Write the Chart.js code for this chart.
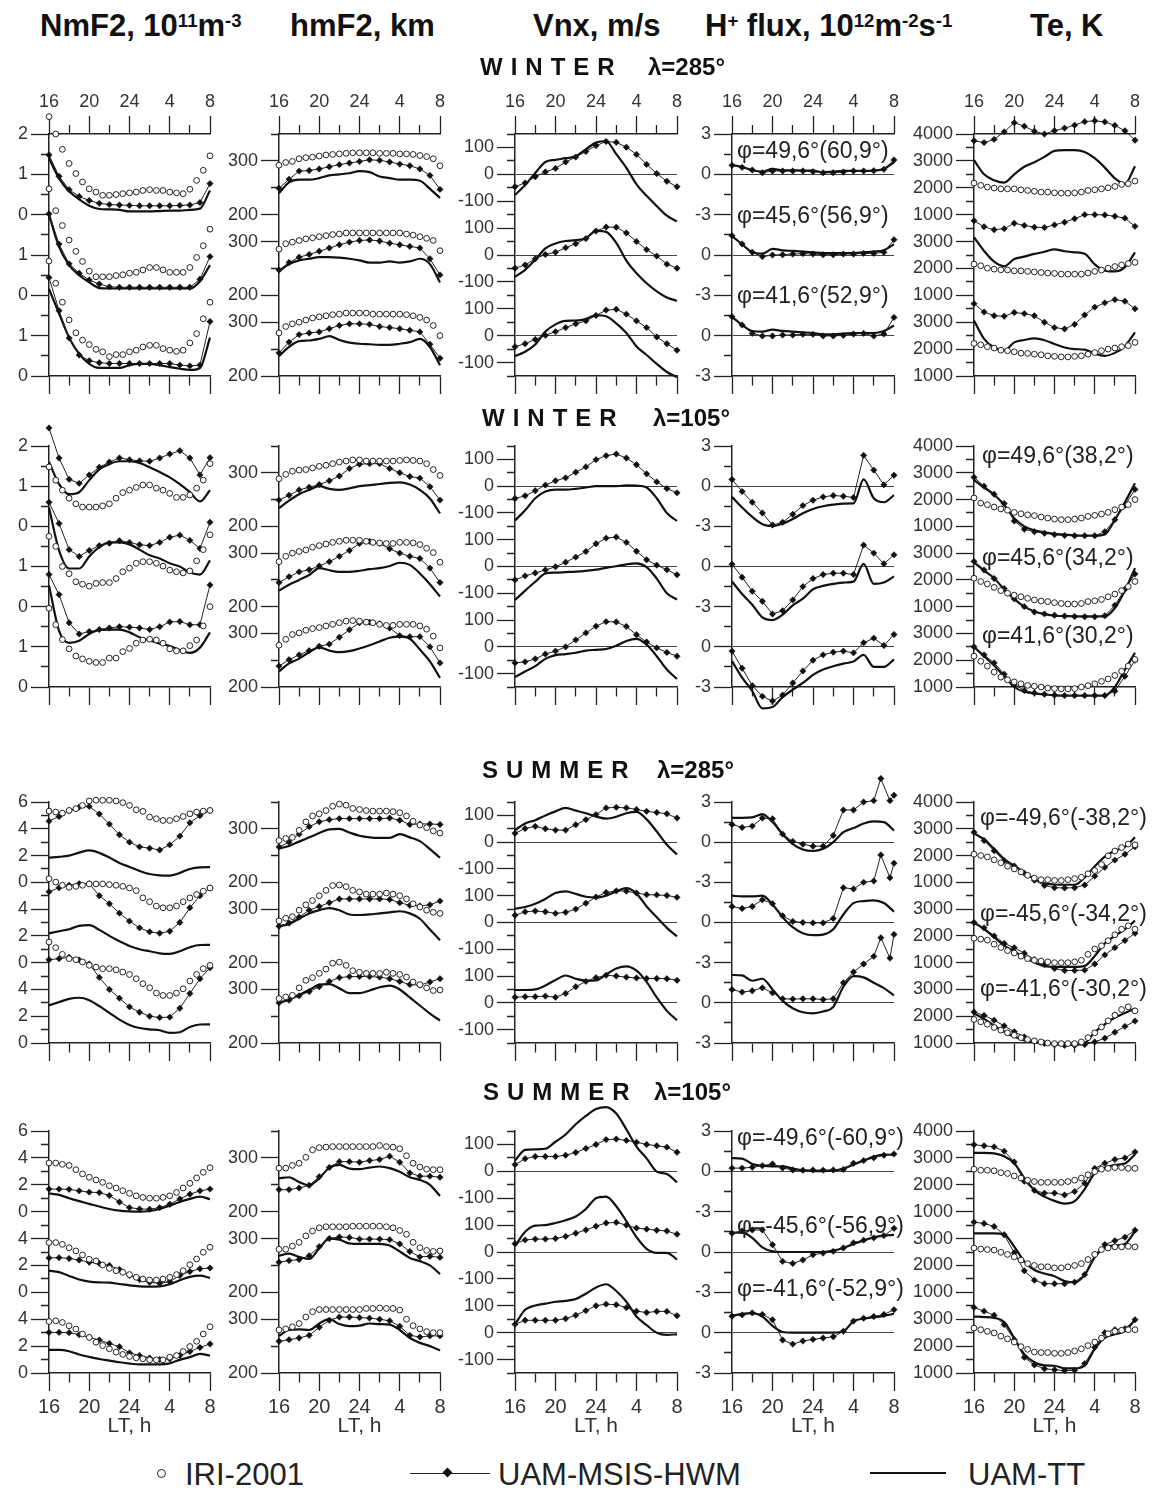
<!DOCTYPE html>
<html lang="en">
<head>
<meta charset="UTF-8">
<title>NmF2, hmF2, Vnx, H+ flux, Te: IRI-2001 / UAM-MSIS-HWM / UAM-TT</title>
<script src="https://cdn.jsdelivr.net/npm/chart.js"></script>
<style>
  body { margin:0; background:#fff; width:1153px; height:1488px; position:relative; overflow:hidden;
         font-family:'Liberation Sans', Arial, sans-serif; color:#111; }
  .abs { position:absolute; white-space:nowrap; line-height:1; z-index:2; }
  .hdr { font-size:31px; font-weight:bold; top:10px; }
  .sup { font-size:0.6em; position:relative; top:-0.5em; }
  .blk { font-size:24px; font-weight:bold; }
  .spaced { letter-spacing:8px; }
  .phi { font-size:23px; color:#222; }
  .leg { font-size:31px; top:1459px; color:#222; }
  canvas { position:absolute; z-index:1; }
</style>
</head>
<body>
  <div class="abs hdr" style="left:40px">NmF2, 10<span class="sup">11</span>m<span class="sup">-3</span></div>
  <div class="abs hdr" style="left:290px">hmF2, km</div>
  <div class="abs hdr" style="left:533px">Vnx, m/s</div>
  <div class="abs hdr" style="left:705px">H<span class="sup">+</span> flux, 10<span class="sup">12</span>m<span class="sup">-2</span>s<span class="sup">-1</span></div>
  <div class="abs hdr" style="left:1030px">Te, K</div>

  <div class="abs blk spaced" style="left:480px;top:55px">WINTER</div>
  <div class="abs blk" style="left:648px;top:55px">λ=285°</div>
  <div class="abs blk spaced" style="left:482px;top:406px">WINTER</div>
  <div class="abs blk" style="left:653px;top:406px">λ=105°</div>
  <div class="abs blk spaced" style="left:482px;top:758px">SUMMER</div>
  <div class="abs blk" style="left:657px;top:758px">λ=285°</div>
  <div class="abs blk spaced" style="left:483px;top:1080px">SUMMER</div>
  <div class="abs blk" style="left:654px;top:1080px">λ=105°</div>

  <div class="abs phi" style="left:737px;top:139px">φ=49,6°(60,9°)</div>
  <div class="abs phi" style="left:737px;top:204px">φ=45,6°(56,9°)</div>
  <div class="abs phi" style="left:737px;top:284px">φ=41,6°(52,9°)</div>
  <div class="abs phi" style="left:982px;top:444px">φ=49,6°(38,2°)</div>
  <div class="abs phi" style="left:982px;top:546px">φ=45,6°(34,2°)</div>
  <div class="abs phi" style="left:982px;top:624px">φ=41,6°(30,2°)</div>
  <div class="abs phi" style="left:980px;top:806px">φ=-49,6°(-38,2°)</div>
  <div class="abs phi" style="left:980px;top:902px">φ=-45,6°(-34,2°)</div>
  <div class="abs phi" style="left:980px;top:977px">φ=-41,6°(-30,2°)</div>
  <div class="abs phi" style="left:737px;top:1126px">φ=-49,6°(-60,9°)</div>
  <div class="abs phi" style="left:737px;top:1214px">φ=-45,6°(-56,9°)</div>
  <div class="abs phi" style="left:737px;top:1277px">φ=-41,6°(-52,9°)</div>

  <div class="abs" style="left:157px;top:1469px;width:7px;height:7px;border:1.4px solid #222;border-radius:50%"></div>
  <div class="abs leg" style="left:185px">IRI-2001</div>
  <div class="abs" style="left:410px;top:1473px;width:80px;height:1.4px;background:#222"></div>
  <div class="abs" style="left:444px;top:1469px;width:7px;height:7px;background:#111;transform:rotate(45deg)"></div>
  <div class="abs leg" style="left:498px">UAM-MSIS-HWM</div>
  <div class="abs" style="left:870px;top:1472px;width:76px;height:2.4px;background:#111"></div>
  <div class="abs leg" style="left:968px">UAM-TT</div>

<script>
// local time, h (28 = 4 LT, 32 = 8 LT of the next day)
const hoursIRI = [16,16.67,17.33,18,18.67,19.33,20,20.67,21.33,22,22.67,23.33,24,24.67,25.33,26,26.67,27.33,28,28.67,29.33,30,30.67,31.33,32];
const hoursUAM = [16,17,18,19,20,21,22,23,24,25,26,27,28,29,30,31,32];
const hoursSpike = [16,17,18,19,20,21,22,23,24,25,26,27,28,29,30,30.7,31.6,32];
const xTickText = {16:'16', 20:'20', 24:'24', 28:'4', 32:'8'};

// each array: [upper latitude, middle, lower] as stacked in a panel

// ---- WINTER, lambda = 285
const nm_w285_iri = [
  [2.43,2.00,1.62,1.27,1.02,0.81,0.64,0.56,0.48,0.48,0.50,0.52,0.54,0.56,0.60,0.62,0.60,0.60,0.56,0.54,0.52,0.63,0.85,1.10,1.46],
  [2.64,2.10,1.73,1.37,1.09,0.84,0.60,0.46,0.46,0.46,0.49,0.51,0.55,0.57,0.63,0.69,0.69,0.63,0.57,0.57,0.57,0.69,0.94,1.23,1.64],
  [2.85,2.30,1.83,1.39,1.07,0.89,0.78,0.66,0.60,0.48,0.53,0.53,0.60,0.64,0.72,0.76,0.76,0.68,0.64,0.61,0.64,0.82,1.05,1.42,1.83]];
const nm_w285_msis = [
  [1.48,0.95,0.62,0.45,0.35,0.28,0.25,0.24,0.23,0.22,0.22,0.22,0.22,0.23,0.24,0.30,0.77],
  [2.02,1.27,0.78,0.55,0.38,0.28,0.21,0.20,0.20,0.20,0.20,0.20,0.20,0.20,0.20,0.40,0.96],
  [2.44,1.62,0.94,0.52,0.38,0.33,0.31,0.31,0.31,0.31,0.31,0.31,0.31,0.27,0.25,0.27,1.35]];
const nm_w285_tt = [
  [1.40,0.90,0.58,0.38,0.22,0.14,0.13,0.12,0.08,0.08,0.08,0.09,0.10,0.10,0.12,0.15,0.60],
  [2.00,1.20,0.75,0.50,0.32,0.18,0.17,0.17,0.17,0.17,0.17,0.17,0.17,0.17,0.17,0.35,0.75],
  [2.16,1.55,0.95,0.55,0.30,0.20,0.20,0.20,0.27,0.30,0.30,0.27,0.22,0.18,0.15,0.20,0.95]];

const hm_w285_iri = [
  [292,297,299,304,306,307,309,311,312,313,314,315,315,315,315,314,314,314,313,313,312,310,308,304,291],
  [286,296,299,302,305,307,309,311,313,314,316,316,316,316,316,316,316,316,316,314,312,309,306,302,283],
  [280,292,297,300,304,308,310,312,314,315,317,317,317,317,315,315,315,315,315,314,312,309,304,294,275]];
const hm_w285_msis = [
  [249,266,281,282,285,289,293,296,299,302,301,298,294,291,285,273,247],
  [247,261,271,276,282,288,294,299,302,303,301,297,294,291,288,268,238],
  [243,263,277,280,282,288,294,297,297,296,292,290,288,285,282,259,233]];
const hm_w285_tt = [
  [240,260,265,265,268,273,275,277,281,279,271,268,265,265,263,248,231],
  [245,258,265,268,271,271,270,268,265,261,261,263,261,263,268,258,224],
  [237,254,265,266,269,274,267,262,260,259,258,258,260,263,269,254,220]];

const vn_w285_msis = [
  [-46,-32,-9,9,22,46,64,85,107,122,119,101,74,37,3,-26,-46],
  [-49,-37,-14,2,10,27,42,61,89,104,103,82,50,20,-4,-34,-49],
  [-41,-30,-14,1,15,30,44,55,75,95,98,80,55,30,-5,-30,-54]];
const vn_w285_tt = [
  [-77,-40,5,46,54,60,67,93,118,123,75,24,-37,-80,-118,-154,-175],
  [-81,-55,-18,25,43,52,55,62,90,86,45,-21,-68,-105,-135,-158,-171],
  [-76,-60,-33,15,42,55,56,62,76,72,46,10,-40,-72,-105,-135,-154]];

const hp_w285_msis = [
  [0.67,0.52,0.32,0.12,0.25,0.25,0.25,0.25,0.20,0.12,0.12,0.17,0.25,0.25,0.27,0.37,1.07],
  [1.44,0.82,0.20,-0.12,0.00,0.02,0.07,0.10,0.07,0.02,0.02,0.07,0.07,0.12,0.12,0.20,1.14],
  [1.41,0.79,0.17,-0.02,-0.02,0.05,0.05,0.10,0.10,-0.02,-0.02,0.02,0.12,0.17,-0.02,0.12,1.36]];
const hp_w285_tt = [
  [0.70,0.55,0.30,0.20,0.40,0.30,0.30,0.28,0.28,0.15,0.20,0.25,0.25,0.25,0.28,0.40,0.90],
  [1.40,0.80,0.20,0.10,0.45,0.35,0.30,0.25,0.20,0.15,0.15,0.15,0.15,0.20,0.25,0.35,0.80],
  [1.40,0.80,0.35,0.30,0.45,0.35,0.30,0.25,0.20,0.10,0.10,0.15,0.20,0.20,0.20,0.35,0.75]];

const te_w285_iri = [
  [2175,2090,2025,1990,1960,1960,1960,1925,1900,1870,1840,1840,1810,1800,1800,1810,1840,1900,1925,1960,2000,2050,2125,2150,2250],
  [2160,2100,2010,1975,1950,1940,1910,1910,1890,1870,1850,1830,1815,1790,1790,1790,1790,1830,1890,1940,2010,2070,2130,2180,2225],
  [2210,2160,2090,2040,1960,1940,1900,1850,1840,1810,1790,1750,1730,1710,1710,1730,1750,1810,1870,1940,2000,2040,2090,2130,2250]];
const te_w285_msis = [
  [3750,3680,3800,4080,4420,4290,4100,4000,4120,4220,4330,4460,4490,4450,4320,4120,3770],
  [3775,3550,3440,3480,3680,3600,3530,3520,3620,3720,3850,4000,4000,3990,3940,3870,3565],
  [3690,3380,3240,3220,3360,3320,3240,3000,2800,2750,2920,3270,3560,3720,3840,3780,3500]];
const te_w285_tt = [
  [3025,2500,2280,2190,2500,2780,2950,3150,3370,3400,3400,3330,3100,2750,2350,2150,2800],
  [3160,2650,2250,2080,2350,2440,2540,2620,2710,2640,2600,2550,2150,1920,1890,2050,2600],
  [3060,2380,2060,1950,2250,2340,2400,2330,2190,2060,2000,1980,1830,1750,1860,2110,2625]];

// ---- WINTER, lambda = 105
const nm_w105_iri = [
  [1.48,1.15,0.90,0.70,0.56,0.48,0.48,0.48,0.51,0.56,0.70,0.84,0.90,0.97,1.03,1.03,0.95,0.90,0.82,0.72,0.72,0.78,0.95,1.15,1.56],
  [1.75,1.50,1.00,0.82,0.62,0.56,0.51,0.58,0.60,0.60,0.70,0.87,0.96,1.08,1.12,1.12,1.08,1.01,0.91,0.87,0.84,0.89,1.14,1.42,1.79],
  [1.96,1.55,1.18,0.95,0.77,0.70,0.64,0.61,0.61,0.72,0.72,0.88,0.96,1.09,1.17,1.19,1.17,1.09,0.95,0.90,0.90,1.03,1.17,1.52,2.00]];
const nm_w105_msis = [
  [2.45,1.70,1.17,1.07,1.28,1.47,1.60,1.70,1.66,1.63,1.62,1.70,1.80,1.88,1.70,1.28,1.71],
  [2.60,2.07,1.42,1.25,1.40,1.52,1.58,1.64,1.60,1.54,1.52,1.60,1.73,1.78,1.65,1.45,2.10],
  [2.80,2.30,1.60,1.32,1.38,1.43,1.47,1.50,1.49,1.47,1.43,1.50,1.62,1.63,1.55,1.55,2.54]];
const nm_w105_tt = [
  [1.60,1.05,0.80,0.85,1.15,1.42,1.55,1.62,1.62,1.58,1.47,1.35,1.22,1.05,0.85,0.62,0.90],
  [2.47,1.40,0.95,0.95,1.25,1.48,1.60,1.60,1.55,1.42,1.28,1.20,1.08,1.00,0.85,0.80,1.15],
  [2.53,1.40,1.10,1.15,1.32,1.42,1.43,1.43,1.36,1.24,1.16,1.08,1.02,0.92,0.85,0.98,1.36]];

const hm_w105_iri = [
  [289,297,303,305,306,309,312,314,317,320,322,324,324,322,322,322,322,322,323,324,323,322,317,306,295],
  [284,294,300,303,306,311,314,317,320,322,324,324,324,322,320,319,318,318,320,320,319,316,309,301,283],
  [278,289,298,301,306,309,311,314,317,320,323,324,323,321,320,317,315,315,317,317,317,314,308,295,273]];
const hm_w105_msis = [
  [249,258,268,273,278,285,294,308,316,317,317,308,300,293,290,274,249],
  [245,256,265,269,276,284,294,305,318,322,318,308,300,294,290,272,245],
  [239,251,260,268,276,280,293,307,320,321,318,310,296,294,294,275,245]];
const hm_w105_tt = [
  [234,248,260,268,275,270,268,271,275,277,279,281,282,278,268,252,224],
  [230,241,250,259,272,268,265,265,267,270,272,276,282,278,262,242,219],
  [229,244,253,265,274,268,265,267,272,278,285,292,294,290,270,248,217]];

const vn_w105_msis = [
  [-46,-36,-17,4,20,31,52,72,99,114,120,105,80,46,16,-9,-25],
  [-50,-35,-24,-13,-1,16,35,56,85,106,110,90,57,25,5,-12,-31],
  [-60,-56,-45,-27,-16,0,26,52,77,94,93,76,45,18,-4,-21,-35]];
const vn_w105_tt = [
  [-128,-90,-45,-20,-13,-13,-10,-5,0,0,0,3,2,-5,-45,-100,-130],
  [-125,-90,-57,-26,-23,-21,-19,-16,-12,-5,1,8,12,-2,-45,-100,-123],
  [-113,-92,-72,-45,-31,-27,-22,-14,-11,-8,4,22,30,8,-35,-85,-120]];

const hp_w105_msis = [
  [0.50,-0.40,-1.20,-2.00,-2.90,-2.70,-2.10,-1.45,-1.05,-0.80,-0.70,-0.75,-0.85,2.30,1.20,0.10,0.82],
  [0.17,-0.80,-1.85,-2.60,-3.55,-3.30,-2.50,-1.50,-0.90,-0.60,-0.50,-0.50,-0.60,1.60,1.00,0.20,0.87],
  [-0.32,-1.60,-2.90,-3.70,-4.05,-3.60,-2.70,-1.80,-1.00,-0.60,-0.40,-0.32,-0.45,0.30,0.65,0.10,0.92]];
const hp_w105_tt = [
  [-0.80,-1.60,-2.30,-2.85,-2.98,-2.80,-2.45,-2.03,-1.70,-1.50,-1.38,-1.30,-1.29,0.50,-0.90,-1.20,-0.67],
  [-1.12,-2.05,-2.85,-3.80,-4.00,-3.60,-2.90,-2.40,-1.70,-1.45,-1.30,-1.20,-1.13,0.20,-1.30,-1.20,-0.74],
  [-1.07,-2.30,-3.30,-4.60,-4.50,-3.75,-3.20,-2.70,-2.10,-1.70,-1.45,-1.25,-1.10,-0.60,-1.50,-1.50,-0.94]];

const te_w105_iri = [
  [2060,1870,1810,1720,1650,1600,1520,1470,1430,1400,1350,1310,1270,1250,1250,1270,1310,1370,1410,1460,1520,1620,1720,1810,2000],
  [2060,1940,1850,1720,1600,1500,1430,1370,1310,1250,1210,1190,1150,1120,1100,1100,1120,1190,1220,1270,1370,1470,1600,1750,1940],
  [2150,1960,1780,1560,1370,1270,1190,1120,1060,1030,1000,960,940,930,930,940,1000,1050,1120,1210,1300,1430,1590,1780,2030]];
const te_w105_msis = [
  [2830,2500,2200,1850,1200,890,800,740,690,660,650,650,650,800,1250,1780,2380],
  [2690,2370,2050,1680,1290,1000,800,730,680,650,630,625,625,660,1050,1650,2220],
  [2500,2200,1900,1480,1100,870,780,730,700,680,680,680,680,680,850,1400,2000]];
const te_w105_tt = [
  [2730,2450,2180,1800,1300,1000,850,780,720,690,660,650,650,700,1250,1900,2610],
  [2650,2350,2060,1650,1280,1000,820,720,660,650,640,640,640,640,950,1600,2440],
  [2500,2150,1800,1400,1000,820,760,720,690,680,680,680,680,680,1000,1650,2280]];

// ---- SUMMER, lambda = 285
const nm_s285_iri = [
  [5.32,5.25,5.17,5.37,5.50,5.75,6.08,6.13,6.13,6.13,6.08,5.95,5.75,5.42,5.30,4.87,4.75,4.62,4.62,4.75,4.92,5.12,5.25,5.32,5.37],
  [6.27,6.02,5.78,5.63,5.70,5.78,5.88,5.88,5.88,5.83,5.78,5.70,5.58,5.38,4.84,4.55,4.23,4.10,4.10,4.23,4.55,4.84,5.09,5.34,5.58],
  [7.54,7.12,6.62,6.30,6.22,6.05,5.80,5.67,5.55,5.55,5.47,5.30,5.12,4.80,4.43,4.13,3.73,3.55,3.55,3.73,4.05,4.63,5.12,5.55,5.80]];
const nm_s285_msis = [
  [4.57,4.92,5.35,5.62,5.67,5.10,4.35,3.55,3.00,2.65,2.55,2.42,2.80,3.45,4.45,4.98,5.37],
  [5.29,5.60,5.78,5.90,5.90,5.00,4.40,3.70,3.10,2.60,2.30,2.20,2.35,3.00,4.10,5.00,5.58],
  [6.22,6.30,6.40,6.20,5.90,4.90,4.00,3.35,2.70,2.30,2.00,1.90,1.93,2.60,3.70,4.80,5.62]];
const nm_s285_tt = [
  [1.84,1.90,2.00,2.22,2.38,2.20,1.85,1.45,1.15,0.85,0.62,0.52,0.50,0.70,1.00,1.12,1.13],
  [2.19,2.35,2.50,2.75,2.80,2.45,2.00,1.60,1.25,1.00,0.85,0.70,0.66,0.85,1.15,1.32,1.33],
  [2.81,3.05,3.30,3.38,3.20,2.75,2.25,1.75,1.35,1.12,1.02,0.95,0.75,0.80,1.20,1.38,1.39]];

const hm_s285_iri = [
  [278,282,284,297,313,324,328,334,342,346,344,338,336,334,333,333,333,332,330,324,314,307,302,296,292],
  [278,283,286,298,308,316,325,335,344,345,342,335,332,328,328,328,330,328,325,319,310,304,298,294,292],
  [283,286,289,303,317,322,330,338,349,351,345,335,332,330,330,330,332,330,328,323,314,309,303,298,299]];
const hm_s285_msis = [
  [266,275,290,304,313,317,319,319,319,319,319,320,316,308,309,309,308],
  [268,274,285,298,305,312,319,319,319,319,319,318,312,307,306,308,315],
  [275,280,288,296,305,315,322,324,324,324,323,320,315,309,308,314,320]];
const hm_s285_tt = [
  [263,268,276,284,292,299,300,293,287,284,283,283,290,284,277,262,246],
  [268,272,282,292,298,302,298,290,289,290,292,294,296,292,282,262,242],
  [275,281,290,299,309,310,302,293,293,298,304,307,300,285,270,255,242]];

const vn_s285_msis = [
  [33,51,59,50,45,45,65,84,103,128,130,128,122,115,111,106,90],
  [27,40,43,40,34,38,50,72,95,112,118,117,110,104,103,101,94],
  [21,23,23,25,21,35,60,80,94,103,100,96,93,91,91,90,84]];
const vn_s285_tt = [
  [45,70,82,100,115,128,118,108,96,88,95,108,113,85,40,-10,-46],
  [51,58,70,88,110,116,107,96,93,100,116,128,108,60,20,-20,-52],
  [48,48,50,65,85,102,90,83,84,106,128,136,120,78,20,-30,-65]];

// on hoursSpike (sharp morning peak)
const hp_s285_msis = [
  [1.32,1.10,1.20,1.80,1.75,0.60,0.05,-0.15,-0.30,-0.30,0.50,2.40,2.40,3.00,3.10,4.75,3.10,3.50],
  [1.19,1.05,1.20,1.70,1.40,0.50,0.08,0.00,-0.03,-0.03,0.30,2.60,2.50,3.00,3.10,5.04,3.34,4.43],
  [0.99,0.80,0.90,1.12,0.75,0.30,0.28,0.30,0.30,0.25,0.30,1.50,2.30,2.90,3.47,4.86,3.34,5.11]];
const hp_s285_tt = [
  [1.82,1.82,1.85,2.10,1.50,0.60,-0.15,-0.55,-0.66,-0.50,0.00,0.75,1.05,1.40,1.55,1.50,0.86],
  [2.00,1.95,1.95,2.00,1.35,0.40,-0.35,-0.80,-0.95,-0.90,-0.50,0.60,1.45,1.60,1.65,1.45,0.81],
  [2.08,2.05,1.65,1.80,1.00,0.15,-0.40,-0.70,-0.78,-0.65,-0.30,1.20,2.00,1.90,1.50,1.10,0.56]];

const te_s285_iri = [
  [2050,2000,1950,1840,1730,1600,1500,1390,1260,1160,1100,1100,1070,1070,1100,1140,1190,1320,1440,1670,1990,2170,2300,2430,2400],
  [1910,1880,1840,1690,1570,1450,1360,1240,1150,1090,1060,1030,1000,1000,1000,1030,1090,1310,1510,1630,1820,2040,2250,2380,2250],
  [1880,1790,1700,1580,1480,1380,1290,1200,1130,1080,1040,1000,980,980,980,980,1040,1200,1380,1600,1830,2040,2250,2350,2200]];
const te_s285_msis = [
  [2870,2560,2180,1800,1610,1340,1080,880,800,790,800,900,1230,1560,1830,2050,2330],
  [2500,2300,2000,1720,1560,1350,1120,930,780,710,710,720,950,1290,1560,1830,2100],
  [2160,2030,1850,1640,1420,1230,1060,980,930,910,910,940,1040,1180,1400,1620,1820]];
const te_s285_tt = [
  [2830,2600,2250,1870,1620,1380,1120,960,920,910,910,1180,1600,1960,2180,2330,2680],
  [2500,2250,1950,1640,1420,1200,1010,870,840,840,840,880,1250,1720,2000,2250,2570],
  [2100,1900,1650,1420,1230,1100,1020,990,960,950,950,1000,1400,1700,1950,2120,2290]];

// ---- SUMMER, lambda = 105
const nm_s105_iri = [
  [3.62,3.62,3.52,3.44,3.12,2.81,2.56,2.36,2.18,1.93,1.76,1.56,1.36,1.18,1.06,1.00,1.00,1.06,1.18,1.43,1.76,2.11,2.51,2.93,3.27],
  [3.70,3.70,3.57,3.32,3.08,2.78,2.46,2.33,2.03,1.78,1.61,1.49,1.32,1.12,0.99,0.92,0.92,0.99,1.12,1.32,1.61,2.06,2.48,2.98,3.35],
  [3.83,3.88,3.76,3.51,3.27,2.90,2.65,2.29,2.04,1.80,1.55,1.38,1.23,1.13,1.06,0.98,0.98,0.98,1.18,1.30,1.60,1.97,2.36,2.90,3.44]];
const nm_s105_msis = [
  [1.68,1.68,1.66,1.55,1.45,1.42,1.20,0.72,0.30,0.20,0.18,0.30,0.55,0.95,1.30,1.55,1.68],
  [2.56,2.58,2.52,2.40,2.24,2.15,2.00,1.70,1.25,0.95,0.75,0.67,0.80,1.25,1.55,1.75,1.81],
  [3.02,3.02,3.00,2.85,2.65,2.45,2.20,1.95,1.50,1.30,1.12,1.00,1.05,1.30,1.60,1.90,2.16]];
const nm_s105_tt = [
  [1.36,1.25,1.00,0.78,0.58,0.38,0.20,0.08,0.02,0.00,0.05,0.20,0.45,0.72,0.95,1.12,0.93],
  [1.61,1.50,1.22,0.95,0.80,0.74,0.72,0.62,0.52,0.45,0.42,0.44,0.60,0.90,1.15,1.24,1.07],
  [1.72,1.72,1.62,1.38,1.20,1.04,0.92,0.80,0.70,0.64,0.64,0.64,0.72,0.98,1.18,1.42,1.30]];

const hm_s105_iri = [
  [281,281,286,290,301,315,319,320,321,321,321,321,321,321,321,323,321,320,317,304,290,283,279,278,278],
  [280,280,286,293,305,314,320,322,322,322,322,323,323,323,323,323,322,320,315,308,293,283,278,276,277],
  [280,282,286,292,304,314,318,318,318,318,318,318,318,320,320,321,320,320,317,300,288,282,277,275,275]];
const hm_s105_msis = [
  [241,241,244,249,265,282,293,293,292,295,297,303,292,272,266,266,264],
  [256,259,261,268,285,300,303,302,299,299,299,298,290,276,266,267,265],
  [259,262,265,270,285,298,304,304,303,302,300,297,287,270,267,269,269]];
const hm_s105_tt = [
  [262,264,255,249,262,282,287,280,279,282,284,281,274,264,259,250,229],
  [268,272,266,262,282,300,298,291,290,290,290,287,276,264,258,250,234],
  [269,280,281,280,292,300,291,287,288,292,291,290,280,265,256,250,242]];

const vn_s105_msis = [
  [25,47,55,55,55,60,70,85,100,118,120,115,108,100,95,90,71],
  [31,45,48,48,50,58,70,82,96,108,110,100,89,85,81,78,66],
  [31,46,46,46,46,52,65,82,100,106,104,93,80,75,79,79,63]];
const vn_s105_tt = [
  [40,80,82,84,110,137,175,206,232,239,215,156,92,48,-1,-10,-41],
  [22,75,98,100,108,118,132,160,200,206,170,115,55,12,-3,-3,-28],
  [31,85,101,108,115,118,125,145,168,180,155,115,60,28,0,-8,-6]];

const hp_s105_msis = [
  [0.24,0.24,0.30,0.42,0.55,0.25,0.10,0.08,0.10,0.09,0.10,0.14,0.60,0.80,1.00,1.20,1.29],
  [1.39,1.57,1.64,1.64,0.54,-0.70,-0.85,-0.60,-0.20,-0.08,0.05,0.30,0.68,0.88,1.05,1.22,1.76],
  [1.22,1.32,1.47,1.36,0.96,-0.55,-0.85,-0.62,-0.50,-0.40,-0.30,0.10,0.86,1.07,1.20,1.35,1.71]];
const hp_s105_tt = [
  [0.98,0.95,0.55,0.42,0.37,0.37,0.20,0.08,0.02,0.02,0.05,0.20,0.50,0.80,1.10,1.25,1.22],
  [1.44,1.44,1.05,0.35,0.05,0.00,0.00,0.00,0.00,0.00,0.10,0.30,0.60,0.85,1.10,1.22,1.27],
  [1.27,1.40,1.45,1.20,0.50,0.05,0.00,0.00,0.00,0.00,0.00,0.10,0.85,1.05,1.15,1.25,1.41]];

const te_s105_iri = [
  [2580,2540,2540,2520,2450,2420,2330,2250,2170,2120,2090,2090,2090,2090,2120,2170,2250,2370,2490,2580,2610,2640,2640,2610,2610],
  [2650,2610,2590,2570,2490,2410,2320,2200,2070,2000,1950,1950,1910,1910,1950,2000,2070,2220,2410,2590,2650,2690,2690,2710,2690],
  [2670,2610,2550,2490,2370,2270,2150,1980,1880,1780,1760,1760,1730,1730,1760,1820,1900,2020,2150,2300,2460,2550,2590,2610,2610]];
const te_s105_msis = [
  [3490,3450,3410,3250,2850,2130,1790,1690,1690,1620,1750,2060,2610,2800,2940,3000,3220],
  [3610,3560,3450,3140,2470,1800,1450,1320,1320,1320,1380,1660,2400,2780,2920,3050,3310],
  [3440,3300,3150,2800,2240,1580,1300,1160,1120,1090,1100,1350,1960,2500,2610,2650,2980]];
const te_s105_tt = [
  [3190,3190,3170,3060,2800,2250,1800,1560,1400,1300,1390,1840,2430,2620,2740,2790,3130],
  [3190,3190,3190,3150,2700,2150,1830,1700,1600,1420,1370,1650,2300,2680,2740,2800,3270],
  [3100,3080,3050,2900,2300,1700,1400,1280,1270,1170,1170,1280,1900,2310,2440,2560,2980]];

const series = {
  nm_w285:[nm_w285_iri,nm_w285_msis,nm_w285_tt], hm_w285:[hm_w285_iri,hm_w285_msis,hm_w285_tt],
  vn_w285:[null,vn_w285_msis,vn_w285_tt], hp_w285:[null,hp_w285_msis,hp_w285_tt], te_w285:[te_w285_iri,te_w285_msis,te_w285_tt],
  nm_w105:[nm_w105_iri,nm_w105_msis,nm_w105_tt], hm_w105:[hm_w105_iri,hm_w105_msis,hm_w105_tt],
  vn_w105:[null,vn_w105_msis,vn_w105_tt], hp_w105:[null,hp_w105_msis,hp_w105_tt], te_w105:[te_w105_iri,te_w105_msis,te_w105_tt],
  nm_s285:[nm_s285_iri,nm_s285_msis,nm_s285_tt], hm_s285:[hm_s285_iri,hm_s285_msis,hm_s285_tt],
  vn_s285:[null,vn_s285_msis,vn_s285_tt], hp_s285:[null,hp_s285_msis,hp_s285_tt], te_s285:[te_s285_iri,te_s285_msis,te_s285_tt],
  nm_s105:[nm_s105_iri,nm_s105_msis,nm_s105_tt], hm_s105:[hm_s105_iri,hm_s105_msis,hm_s105_tt],
  vn_s105:[null,vn_s105_msis,vn_s105_tt], hp_s105:[null,hp_s105_msis,hp_s105_tt], te_s105:[te_s105_iri,te_s105_msis,te_s105_tt]
};
// MSIS series sampled on a different time grid
const msisHours = {hp_s285: hoursSpike};

// axis range of one stacked sub-panel
const ranges = {
  nm_w: {lo:0, hi:2, step:0.5, labels:[0,1,2]},
  nm_s: {lo:0, hi:6, step:1, labels:[0,2,4,6]},
  hm: {lo:200, hi:350, step:50, labels:[200,300]},
  vn: {lo:-150, hi:150, step:50, labels:[-100,0,100], zero:true},
  hp: {lo:-3, hi:3, step:1.5, labels:[-3,0,3], zero:true},
  te: {lo:1000, hi:4000, step:500, labels:[1000,2000,3000,4000]}
};

const columns = [
  {id:'nm', left:49, right:210},
  {id:'hm', left:279, right:440},
  {id:'vn', left:515, right:677},
  {id:'hp', left:732, right:894},
  {id:'te', left:974, right:1135}
];
const blocks = [
  {key:'w285', season:'w', top:134, bottom:376, topAxis:true, bottomText:false},
  {key:'w105', season:'w', top:446, bottom:687, topAxis:false, bottomText:false},
  {key:'s285', season:'s', top:802, bottom:1043, topAxis:false, bottomText:false},
  {key:'s105', season:'s', top:1131, bottom:1373, topAxis:false, bottomText:true}
];

const FONT = "'Liberation Sans', Arial, sans-serif";
const INK = '#222';
const AXW = 66, RPAD = 14;

// let markers that leave the plot frame be drawn too (as in the original figure)
const drawOutside = {
  id: 'drawOutside',
  beforeDatasetsDraw(chart) {
    const a = chart.chartArea;
    chart.$keptArea = {left: a.left, top: a.top, right: a.right, bottom: a.bottom, width: a.width, height: a.height};
    Object.assign(a, {left: 0, top: 0, right: chart.width, bottom: chart.height, width: chart.width, height: chart.height});
  },
  afterDatasetsDraw(chart) {
    Object.assign(chart.chartArea, chart.$keptArea);
  }
};

function pts(xs, ys) { return xs.map((x, i) => ({x: x, y: ys[i]})); }

function subValue(v, rg) {
  const R = rg.hi - rg.lo;
  const k = Math.min(2, Math.floor(v / R + 1e-6));
  return Math.round((rg.lo + v - k * R) * 100) / 100;
}
function yText(v, rg) {
  const s = subValue(v, rg);
  return rg.labels.includes(s) ? String(s) : '';
}

function xAxis(position, showText, bottomTitle, height) {
  const isMajor = v => xTickText[v] !== undefined;
  return {
    type: 'linear', position: position, min: 16, max: 32,
    display: height > 0,
    afterFit: s => { s.height = height; },
    ticks: {
      stepSize: 2, autoSkip: false, maxRotation: 0, color: '#333',
      padding: position === 'top' ? 3 : 4,
      font: {family: FONT, size: position === 'top' ? 18 : 20},
      callback: v => showText ? (xTickText[v] || '') : ''
    },
    grid: {
      drawOnChartArea: false, tickLength: 18, tickColor: INK, tickWidth: 1.3,
      tickBorderDash: ctx => isMajor(ctx.tick.value) ? [] : (position === 'top' ? [0, 9, 9, 100] : [9, 100])
    },
    border: {display: true, color: INK, width: 1.5},
    title: bottomTitle ? {display: true, text: 'LT, h', color: '#333', padding: 0, font: {family: FONT, size: 21}} : {display: false}
  };
}

function makeChart(block, col) {
  const rg = col.id === 'nm' ? ranges['nm_' + block.season] : ranges[col.id];
  const R = rg.hi - rg.lo;
  const topPad = block.topAxis ? 50 : 34;
  const botPad = block.bottomText ? 66 : 34;
  const w = col.right - col.left + AXW + RPAD;
  const h = block.bottom - block.top + topPad + botPad;

  const canvas = document.createElement('canvas');
  canvas.width = w; canvas.height = h;
  canvas.style.left = (col.left - AXW) + 'px';
  canvas.style.top = (block.top - topPad) + 'px';
  canvas.style.width = w + 'px';
  canvas.style.height = h + 'px';
  document.body.appendChild(canvas);

  const key = col.id + '_' + block.key;
  const [iri, msis, tt] = series[key];
  const mHours = msisHours[key] || hoursUAM;
  const datasets = [];
  for (let k = 0; k < 3; k++) {
    const yid = 'y' + k;
    if (iri) {
      datasets.push({label: 'IRI-2001', data: pts(hoursIRI, iri[k]), yAxisID: yid, showLine: false,
        pointStyle: 'circle', pointRadius: 2.9, pointBorderWidth: 1, pointBorderColor: INK,
        pointBackgroundColor: '#fff', clip: false});
    }
    datasets.push({label: 'UAM-MSIS-HWM', data: pts(mHours, msis[k]), yAxisID: yid,
      borderColor: INK, borderWidth: 1, pointStyle: 'rectRot', pointRadius: 3.2,
      pointBackgroundColor: '#111', pointBorderColor: '#111', pointBorderWidth: 0.5, clip: false});
    datasets.push({label: 'UAM-TT', data: pts(hoursUAM, tt[k]), yAxisID: yid,
      borderColor: '#111', borderWidth: 2.2, pointRadius: 0, cubicInterpolationMode: 'monotone',
      capBezierPoints: false, clip: false});
  }

  const scales = {
    x: xAxis('bottom', block.bottomText, block.bottomText, botPad),
    x2: xAxis('top', block.topAxis, false, block.topAxis ? topPad : 0),
    y: {
      type: 'linear', position: 'left', min: 0, max: 3 * R,
      afterFit: s => { s.width = AXW; },
      ticks: {
        stepSize: rg.step, autoSkip: false, color: '#333', padding: 3,
        font: {family: FONT, size: 18},
        callback: v => yText(v, rg)
      },
      grid: {
        drawOnChartArea: !!rg.zero, tickLength: 18, tickColor: INK, tickWidth: 1.3,
        lineWidth: 1,
        color: ctx => (rg.zero && ctx.tick && subValue(ctx.tick.value, rg) === 0) ? '#444' : 'rgba(0,0,0,0)',
        tickBorderDash: ctx => yText(ctx.tick.value, rg) ? [] : [0, 10, 8, 100]
      },
      border: {display: true, color: INK, width: 1.5}
    },
    y0: {type: 'linear', display: false, min: rg.lo - 2 * R, max: rg.hi},
    y1: {type: 'linear', display: false, min: rg.lo - R, max: rg.hi + R},
    y2: {type: 'linear', display: false, min: rg.lo, max: rg.hi + 2 * R}
  };

  new Chart(canvas.getContext('2d'), {
    type: 'line',
    data: {datasets: datasets},
    options: {
      responsive: false, animation: false, devicePixelRatio: 1, events: [],
      layout: {padding: {top: block.topAxis ? 0 : topPad, right: RPAD, bottom: 0, left: 0}},
      plugins: {legend: {display: false}, tooltip: {enabled: false}},
      scales: scales
    },
    plugins: [drawOutside]
  });
}

blocks.forEach(b => columns.forEach(c => makeChart(b, c)));
</script>
</body>
</html>
